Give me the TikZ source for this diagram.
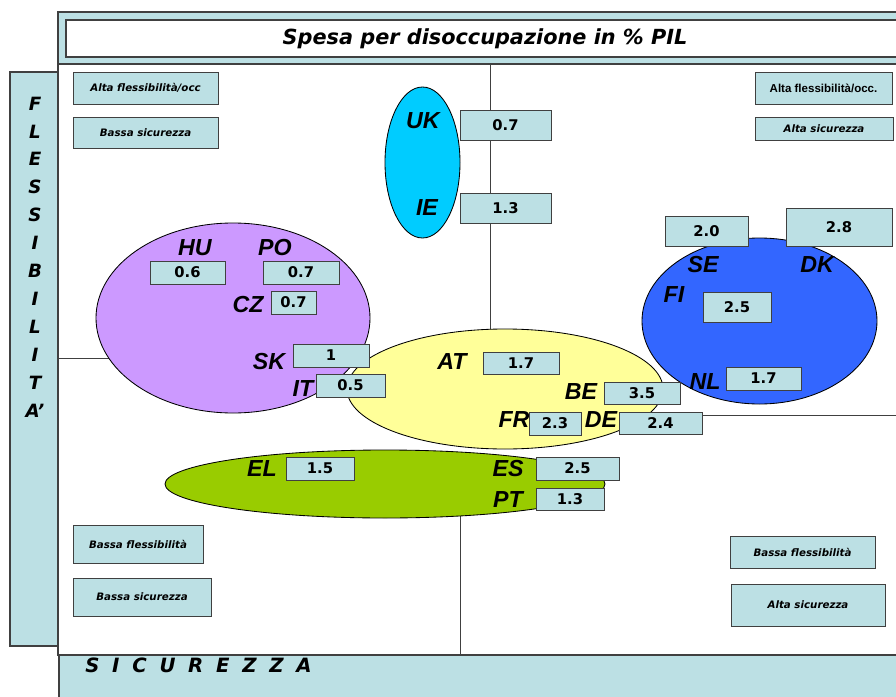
\documentclass[tikz,border=0pt]{standalone}
\usepackage{fontspec}
\setmainfont{DejaVu Sans}
\newfontfamily\arialfont{Liberation Sans}
\usetikzlibrary{positioning}

\definecolor{boxblue}{RGB}{188,224,228}
\definecolor{ukcyan}{RGB}{0,204,255}
\definecolor{eastlilac}{RGB}{204,153,255}
\definecolor{contyellow}{RGB}{255,255,153}
\definecolor{southgreen}{RGB}{153,204,0}
\definecolor{nordblue}{RGB}{51,102,255}
\definecolor{edgegrey}{RGB}{64,64,64}

\begin{document}
\begin{tikzpicture}[x=0.025cm, y=-0.025cm]

		\tikzstyle{panel}=[draw=edgegrey, line width=0.8pt]
		\tikzstyle{group}=[draw=black, line width=0.6pt]
		\tikzstyle{val}=[rectangle, fill=boxblue, draw=edgegrey, line width=0.6pt, inner sep=0pt, font=\fontsize{10.5}{12}\selectfont\bfseries]
		\tikzstyle{tag}=[rectangle, fill=boxblue, draw=edgegrey, line width=0.6pt, inner sep=0pt, font=\fontsize{7.3}{9}\selectfont\bfseries\itshape]
		\tikzstyle{country}=[inner sep=0pt, font=\arialfont\fontsize{16.5}{18}\selectfont\bfseries\itshape]

		\clip (0,0) rectangle (896,697);
		\fill[white] (0,0) rectangle (896,697);

		% frame
		\filldraw[panel, fill=boxblue] (58,12) rectangle (905,64);
		\filldraw[panel, fill=white] (66,20) rectangle (905,57);
		\filldraw[panel, fill=boxblue] (10,72) rectangle (58,646);
		\filldraw[panel, fill=boxblue] (59,655) rectangle (905,705);
		\filldraw[panel, fill=white] (58,64) rectangle (905,655);

		\node[font=\fontsize{14.8}{16}\selectfont\bfseries\itshape] (title) at (485,39) {Spesa per disoccupazione in \% PIL};
		\node[align=center, font=\fontsize{13}{19.85}\selectfont\bfseries\itshape] (flex) at (35,257) {F\\L\\E\\S\\S\\I\\B\\I\\L\\I\\T\\A’};
		\node[anchor=west, inner sep=0pt, font=\fontsize{14}{16}\selectfont\bfseries\itshape] (sicur) at (85,665) {\addfontfeature{LetterSpace=30}S I C U R E Z Z A};

		% axes
		\coordinate (axtop) at (490,64);
		\coordinate (axmid) at (490,345);
		\coordinate (axlow) at (460,500);
		\coordinate (axbot) at (460,655);
		\coordinate (axleft) at (58,358);
		\coordinate (axlin) at (150,358);
		\coordinate (axrin) at (660,415);
		\coordinate (axright) at (905,415);
		\draw[edgegrey, line width=0.6pt] (axtop) -- (axmid) (axlow) -- (axbot) (axleft) -- (axlin) (axrin) -- (axright);

		% country groups
		\filldraw[group, fill=ukcyan] (422.5,162.5) ellipse [x radius=37.5, y radius=75.5];
		\filldraw[group, fill=eastlilac] (233,318) ellipse [x radius=137, y radius=95];
		\filldraw[group, fill=contyellow] (505,389) ellipse [x radius=158, y radius=60];
		\filldraw[group, fill=southgreen] (385,484) ellipse [x radius=220, y radius=34];
		\filldraw[group, fill=nordblue] (759.5,321) ellipse [x radius=117.5, y radius=83];

		\node[country] (uk) at (423,121) {UK};
		\node[country] (ie) at (427,208) {IE};
		\node[country] (hu) at (195,248) {HU};
		\node[country] (po) at (275,248) {PO};
		\node[country] (cz) at (248,305) {CZ};
		\node[country] (sk) at (269,362) {SK};
		\node[country] (it) at (303,389) {IT};
		\node[country] (at) at (452,362) {AT};
		\node[country] (be) at (581,392) {BE};
		\node[country] (fr) at (514,420) {FR};
		\node[country] (de) at (601,420) {DE};
		\node[country] (el) at (262,469) {EL};
		\node[country] (es) at (508,469) {ES};
		\node[country] (pt) at (508,500) {PT};
		\node[country] (se) at (703,265) {SE};
		\node[country] (dk) at (817,265) {DK};
		\node[country] (fi) at (674,295) {FI};
		\node[country] (nl) at (705,382) {NL};

		% spending values
		\node[val, minimum width=2.275cm, minimum height=0.75cm] (vuk) at (505.5,125) {0.7};
		\node[val, minimum width=2.275cm, minimum height=0.75cm] (vie) at (505.5,208) {1.3};
		\node[val, minimum width=1.875cm, minimum height=0.575cm] (vhu) at (187.5,272.5) {0.6};
		\node[val, minimum width=1.9cm, minimum height=0.575cm] (vpo) at (301,272.5) {0.7};
		\node[val, minimum width=1.125cm, minimum height=0.575cm] (vcz) at (293.5,302.5) {0.7};
		\node[val, minimum width=1.9cm, minimum height=0.575cm] (vsk) at (331,355.5) {1};
		\node[val, minimum width=1.725cm, minimum height=0.575cm] (vit) at (350.5,385.5) {0.5};
		\node[val, minimum width=1.9cm, minimum height=0.55cm] (vat) at (521,363) {1.7};
		\node[val, minimum width=1.9cm, minimum height=0.55cm] (vbe) at (642,393) {3.5};
		\node[val, minimum width=1.3cm, minimum height=0.575cm] (vfr) at (555,423.5) {2.3};
		\node[val, minimum width=2.075cm, minimum height=0.55cm] (vde) at (660.5,423) {2.4};
		\node[val, minimum width=1.7cm, minimum height=0.575cm] (vel) at (320,468.5) {1.5};
		\node[val, minimum width=2.075cm, minimum height=0.575cm] (ves) at (577.5,468.5) {2.5};
		\node[val, minimum width=1.7cm, minimum height=0.55cm] (vpt) at (570,499) {1.3};
		\node[val, minimum width=2.075cm, minimum height=0.75cm] (vse) at (706.5,231) {2.0};
		\node[val, minimum width=2.65cm, minimum height=0.95cm] (vdk) at (839,227) {2.8};
		\node[val, minimum width=1.7cm, minimum height=0.75cm] (vfi) at (737,307) {2.5};
		\node[val, minimum width=1.875cm, minimum height=0.575cm] (vnl) at (763.5,378.5) {1.7};

		% quadrant tags
		\node[tag, minimum width=3.625cm, minimum height=0.8cm] (tlflex) at (145.5,88) {Alta flessibilità/occ};
		\node[tag, minimum width=3.625cm, minimum height=0.775cm] (tlsic) at (145.5,132.5) {Bassa sicurezza};
		\node[tag, font=\arialfont\fontsize{8.2}{10}\selectfont\bfseries, minimum width=3.425cm, minimum height=0.8cm] (trflex) at (823.5,88) {Alta flessibilità/occ.};
		\node[tag, minimum width=3.45cm, minimum height=0.575cm] (trsic) at (824,128.5) {Alta sicurezza};
		\node[tag, minimum width=3.25cm, minimum height=0.95cm] (blflex) at (138,544) {Bassa flessibilità};
		\node[tag, minimum width=3.45cm, minimum height=0.95cm] (blsic) at (142,597) {Bassa sicurezza};
		\node[tag, minimum width=3.625cm, minimum height=0.8cm] (brflex) at (802.5,552) {Bassa flessibilità};
		\node[tag, minimum width=3.85cm, minimum height=1.05cm] (brsic) at (808,605) {Alta sicurezza};

\end{tikzpicture}
\end{document}
